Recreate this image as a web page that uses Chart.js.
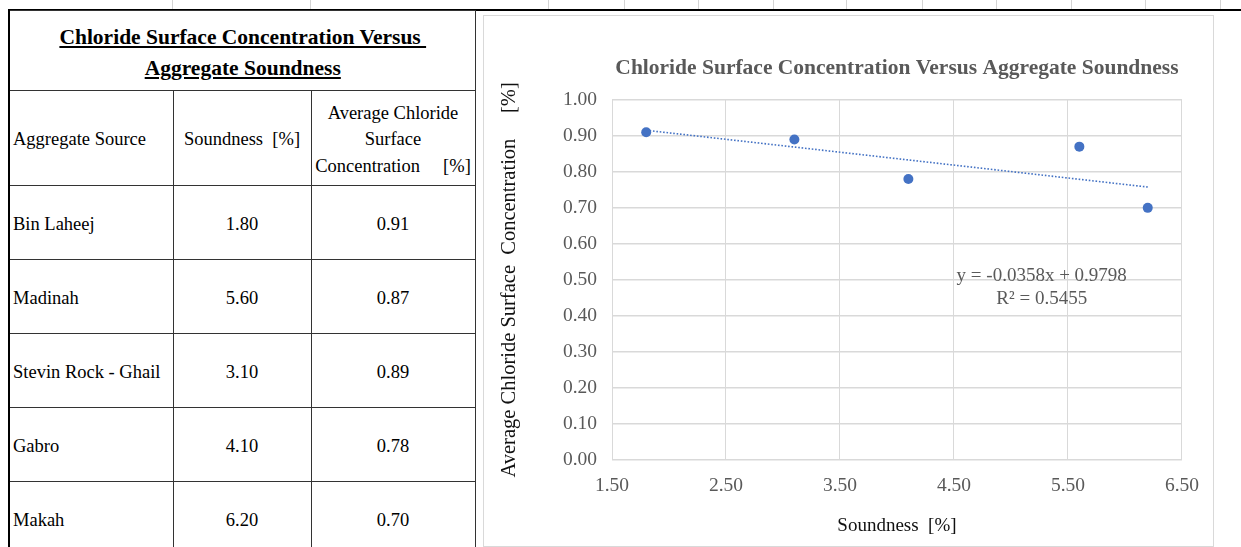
<!DOCTYPE html>
<html>
<head>
<meta charset="utf-8">
<script src="https://cdn.jsdelivr.net/npm/chart.js@4.4.1/dist/chart.umd.min.js"></script>
<style>
  html, body { margin:0; padding:0; background:#fff; }
  body { width:1241px; height:547px; overflow:hidden; position:relative; font-family:"Liberation Serif", serif; }
  .topline { position:absolute; left:8px; top:9px; width:1233px; height:2px; background:#000; }
  .gl { position:absolute; top:0; width:1px; height:9px; background:#d4d4d4; }
  table.data { position:absolute; left:8px; top:10px; border-collapse:collapse; table-layout:fixed; width:466px; color:#000; font-size:18.5px; }
  table.data td { border:1.5px solid #333; padding:3px 2px 0 2px; vertical-align:middle; white-space:nowrap; overflow:hidden; }
  table.data tr td:first-child { border-left:2px solid #000; padding-left:3px; }
  td.ttl { text-align:center; font-weight:bold; font-size:21.5px; line-height:31px; padding-top:4px !important; }
  td.ttl span { text-decoration:underline; }
  td.c { text-align:center; }
  td.hd3 { text-align:center; line-height:26.5px; }
  .chartbox { position:absolute; left:483px; top:15px; width:731px; height:532px; box-sizing:border-box; border:1px solid #d9d9d9; }
  #chart { position:absolute; left:0; top:0; }
</style>
</head>
<body>
<div class="topline"></div>
<div id="grid"></div>
<table class="data" id="tbl">
  <colgroup><col style="width:164px"><col style="width:138px"><col style="width:164px"></colgroup>
  <tr style="height:80px"><td class="ttl" colspan="3"><span>Chloride Surface Concentration Versus&nbsp;</span><br><span>Aggregate Soundness</span></td></tr>
  <tr style="height:95px">
    <td>Aggregate Source</td>
    <td class="c">Soundness&nbsp; [%]</td>
    <td class="hd3">Average Chloride<br>Surface<br>Concentration&nbsp;&nbsp;&nbsp;&nbsp; [%]</td>
  </tr>
</table>
<div class="chartbox"><canvas id="chart" width="729" height="530"></canvas></div>

<script>
// table / chart values
const sources = ['Bin Laheej', 'Madinah', 'Stevin Rock - Ghail', 'Gabro', 'Makah'];
const soundness = [1.80, 5.60, 3.10, 4.10, 6.20];
const chloride = [0.91, 0.87, 0.89, 0.78, 0.70];

// linear trendline ends (Excel trendline)
const trendX = [1.80, 6.20];
const trendY = [0.9154, 0.7578];
const trendText = ['y = -0.0358x + 0.9798', 'R\u00B2 = 0.5455'];

const xMin = 1.5, xMax = 6.5, xStep = 1;
const yMin = 0, yMax = 1, yStep = 0.1;

// spreadsheet column marks above the thick line
const gridMarks = [172, 310, 548, 624, 698, 773, 846, 922, 996, 1071, 1145, 1220];
let grid = document.getElementById('grid');
gridMarks.forEach(function(x){
    let d = document.createElement('div');
    d.className = 'gl';
    d.style.left = x + 'px';
    grid.appendChild(d);
});

let tbl = document.getElementById('tbl');
sources.forEach(function(name, i){
    let tr = document.createElement('tr');
    tr.style.height = '74px';
    tr.innerHTML = '<td>' + name + '</td><td class="c">' + soundness[i].toFixed(2) +
        '</td><td class="c">' + chloride[i].toFixed(2) + '</td>';
    tbl.appendChild(tr);
});

const serif = '"Liberation Serif", "Times New Roman", serif';
const grey = '#595959';
const blue = '#4472C4';

const trendLabel = {
    id: 'trendLabel',
    afterDatasetsDraw(chart) {
        const ctx = chart.ctx;
        const x = chart.scales.x.getPixelForValue(5.27);
        const y = chart.scales.y.getPixelForValue(0.51);
        ctx.save();
        ctx.fillStyle = grey;
        ctx.font = '19px ' + serif;
        ctx.textAlign = 'center';
        ctx.textBaseline = 'middle';
        ctx.fillText(trendText[0], x, y);
        ctx.fillText(trendText[1], x, y + 23);
        ctx.restore();
    }
};

const points = soundness.map(function(s, i){ return {x: s, y: chloride[i]}; });
const trend = trendX.map(function(s, i){ return {x: s, y: trendY[i]}; });

new Chart(document.getElementById('chart'), {
    type: 'scatter',
    data: {
        datasets: [
            {
                label: 'Chloride',
                data: points,
                backgroundColor: blue,
                borderWidth: 0,
                pointRadius: 5,
                order: 0
            },
            {
                type: 'line',
                label: 'Linear',
                data: trend,
                borderColor: blue,
                borderWidth: 1.6,
                borderDash: [1.6, 1.8],
                pointRadius: 0,
                fill: false,
                order: 1
            }
        ]
    },
    options: {
        responsive: false,
        animation: false,
        layout: { padding: { left: 0, right: 30, top: 0, bottom: 0 } },
        plugins: {
            legend: { display: false },
            tooltip: { enabled: false },
            title: {
                display: true,
                fullSize: false,
                text: 'Chloride Surface Concentration Versus Aggregate Soundness',
                color: grey,
                font: { family: serif, size: 21.5, weight: 'bold' },
                padding: { top: 40, bottom: 18 }
            }
        },
        scales: {
            x: {
                type: 'linear',
                min: xMin,
                max: xMax,
                afterFit: function(s){ s.height = 86; },
                ticks: {
                    stepSize: xStep,
                    color: grey,
                    padding: 14,
                    font: { family: serif, size: 19.5 },
                    callback: function(v){ return v.toFixed(2); }
                },
                grid: { color: '#d9d9d9', drawTicks: false },
                border: { display: false },
                title: {
                    display: true,
                    text: 'Soundness  [%]',
                    color: '#111',
                    font: { family: serif, size: 19 },
                    padding: { top: 0, bottom: 9 }
                }
            },
            y: {
                min: yMin,
                max: yMax,
                afterFit: function(s){ s.width = 128; },
                ticks: {
                    stepSize: yStep,
                    color: grey,
                    padding: 15,
                    font: { family: serif, size: 19.5 },
                    callback: function(v){ return v.toFixed(2); }
                },
                grid: { color: '#d9d9d9', lineWidth: 1.5, drawTicks: false },
                border: { display: false },
                title: {
                    display: true,
                    text: 'Average Chloride Surface  Concentration     [%]',
                    color: '#111',
                    font: { family: serif, size: 20.5 },
                    padding: { top: 13, bottom: 0 }
                }
            }
        }
    },
    plugins: [trendLabel]
});
</script>
</body>
</html>
